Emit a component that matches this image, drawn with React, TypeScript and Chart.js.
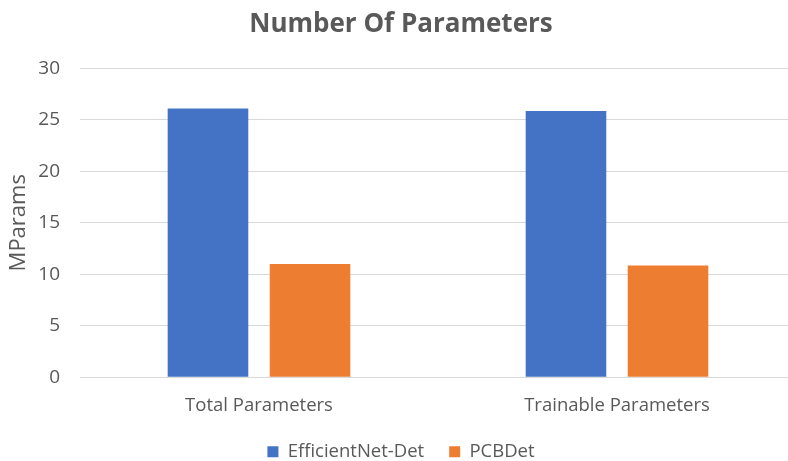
import React, { useEffect, useRef } from "react";
import { Chart, registerables } from "chart.js";

Chart.register(...registerables);

const categories = ["Total Parameters", "Trainable Parameters"];
const efficientNetDet = [26.1, 25.85];
const pcbDet = [11.0, 10.85];
const seriesNames = ["EfficientNet-Det", "PCBDet"];

const FONT = "'Open Sans', 'Liberation Sans', sans-serif";
const TEXT = "#595959";

export default function App() {
  const ref = useRef<HTMLCanvasElement | null>(null);
  useEffect(() => {
    if (!ref.current) return;
    const chart = new Chart(ref.current, {
      type: "bar",
      data: {
        labels: categories,
        datasets: [
          {
            label: seriesNames[0],
            data: efficientNetDet,
            backgroundColor: "#4472C4",
            categoryPercentage: 0.57,
            barPercentage: 0.79,
          },
          {
            label: seriesNames[1],
            data: pcbDet,
            backgroundColor: "#ED7D31",
            categoryPercentage: 0.57,
            barPercentage: 0.79,
          },
        ],
      },
      options: {
        responsive: false,
        animation: false,
        layout: { padding: { left: 6, right: 0, top: 9, bottom: 0 } },
        plugins: {
          title: {
            display: true,
            text: "Number Of Parameters",
            color: TEXT,
            font: { family: FONT, size: 26, weight: "bold" },
            padding: { top: 0, bottom: 28 },
          },
          legend: {
            position: "bottom",
            labels: {
              color: TEXT,
              font: { family: FONT, size: 18.5 },
              boxWidth: 11,
              boxHeight: 11,
              padding: 25,
            },
          },
          tooltip: { enabled: false },
        },
        scales: {
          x: {
            grid: { display: false, drawTicks: false },
            border: { display: true, color: "#d9d9d9" },
            ticks: { color: TEXT, font: { family: FONT, size: 18.5 }, padding: 17 },
            afterFit: (scale: any) => {
              scale.height -= 16;
            },
          },
          y: {
            min: 0,
            max: 30,
            ticks: { stepSize: 5, color: TEXT, font: { family: FONT, size: 19 }, padding: 20 },
            grid: { color: "#d9d9d9", drawTicks: false },
            border: { display: false },
            title: {
              display: true,
              text: "MParams",
              color: TEXT,
              font: { family: FONT, size: 22 },
              padding: { top: 0, bottom: 4 },
            },
            afterFit: (scale: any) => {
              scale.width = 74;
            },
          },
        },
      },
    });
    return () => chart.destroy();
  }, []);
  return (
    <div
      style={{
        position: "fixed",
        left: 0,
        top: 0,
        width: 788,
        height: 461,
        overflow: "hidden",
        background: "#fff",
      }}
    >
      <canvas ref={ref} width={796} height={471} style={{ display: "block" }} />
    </div>
  );
}
